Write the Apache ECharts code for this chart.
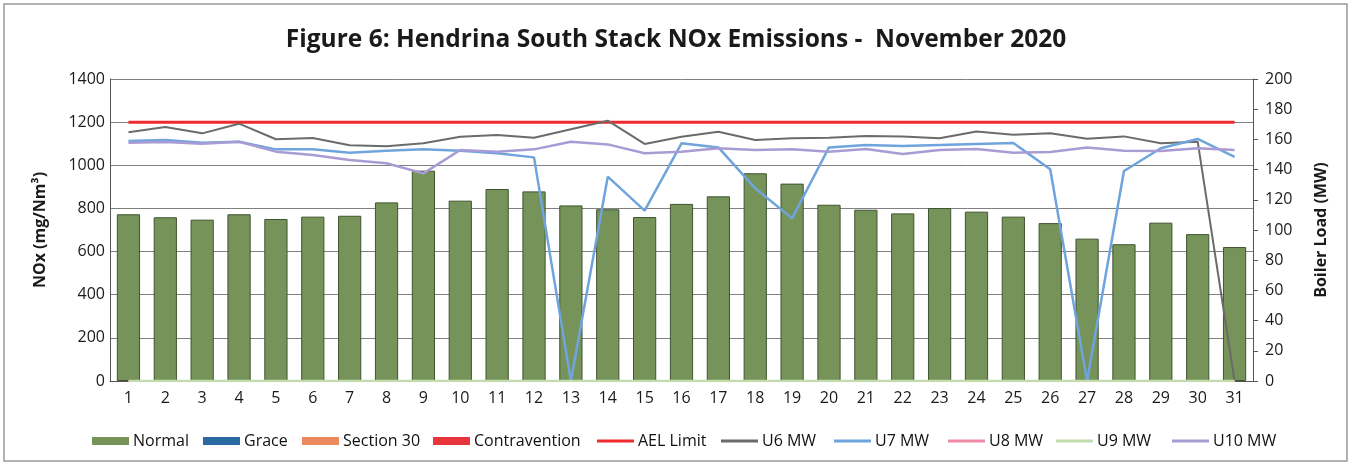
<!DOCTYPE html>
<html>
<head>
<meta charset="utf-8">
<script src="https://cdn.jsdelivr.net/npm/echarts@6/dist/echarts.min.js"></script>
<style>
html,body{margin:0;padding:0;background:#fff;}
#chart{width:1352px;height:465px;}
</style>
</head>
<body>
<div id="chart"></div>
<script>
const days = ['1','2','3','4','5','6','7','8','9','10','11','12','13','14','15','16','17','18','19','20','21','22','23','24','25','26','27','28','29','30','31'];
const normal = [773,759,748,773,751,762,766,828,975,836,890,879,814,796,760,821,856,963,915,817,794,777,802,785,762,732,660,634,734,681,621];
const grace = [];
const section30 = [];
const contravention = [];
const aelLimit = [1200,1200,1200,1200,1200,1200,1200,1200,1200,1200,1200,1200,1200,1200,1200,1200,1200,1200,1200,1200,1200,1200,1200,1200,1200,1200,1200,1200,1200,1200,1200];
const u6 = [164.7,168.2,164,170.4,160.1,160.9,156.1,155.4,157.4,161.8,162.9,161.1,166.7,172.4,157,161.8,165.1,159.6,160.7,161.1,162.3,162,160.7,165.3,163.1,164,160.5,162,157.4,158.5,0];
const u7 = [158.9,159.6,157.8,158.5,153.4,153.4,151.2,152.5,153.4,152.5,150.8,148.1,0,135.3,112.8,157.4,154.7,127.6,107.7,154.7,156.3,155.6,156.3,157,157.6,140.2,0,139.1,154.1,160.3,148.5];
const u8 = [0,0,0,0,0,0,0,0,0,0,0,0,0,0,0,0,0,0,0,0,0,0,0,0,0,0,0,0,0,0,0];
const u9 = [0,0,0,0,0,0,0,0,0,0,0,0,0,0,0,0,0,0,0,0,0,0,0,0,0,0,0,0,0,0,0];
const u10 = [157.8,158.2,157.2,158.4,151.9,149.7,146.4,144.2,137.5,153,151.9,153.4,158.5,156.7,150.8,151.9,154.1,153,153.4,151.9,153.6,150.3,153,153.7,151.2,151.6,154.7,152.5,152.3,154.1,153];
const leftTicks = {min:0,max:1400,interval:200};
const rightTicks = {min:0,max:200,interval:20};
const legendNames = ['Normal','Grace','Section 30','Contravention','AEL Limit','U6 MW','U7 MW','U8 MW','U9 MW','U10 MW'];

const FONT = 'Open Sans';
const legendLeft = [87,198,297,428,592,716,829,943,1051,1167];
const legendIsBar = [true,true,true,true,false,false,false,false,false,false];

const chart = echarts.init(document.getElementById('chart'), null, {renderer:'canvas'});
function lineSeries(name, data, color, width, yIndex){
  return {name, type:'line', data, yAxisIndex:yIndex, symbol:'none', smooth:false,
    lineStyle:{color, width}, itemStyle:{color}, z:3};
}
const legends = legendNames.map((n,i)=>({
  left:legendLeft[i], top:426, itemWidth:37, itemHeight:legendIsBar[i]?8:3, itemGap:0,
  icon:'rect', selectedMode:false, itemStyle:{borderWidth:0},
  textStyle:{fontFamily:FONT, fontSize:16, color:'#111', lineHeight:20, padding:[0,0,0,-1]},
  data:[n]
}));
chart.setOption({
  animation:false,
  backgroundColor:'#fff',
  title:{text:'Figure 6: Hendrina South Stack NOx Emissions -  November 2020', left:'center', top:23,
    textStyle:{fontFamily:FONT, fontSize:24.5, fontWeight:'bold', color:'#1a1a1a'}},
  graphic:[{type:'rect', shape:{x:4,y:4,width:1343,height:457}, style:{fill:'none', stroke:'#999', lineWidth:1.5}, silent:true}],
  legend:legends,
  grid:{left:110, right:99, top:79, bottom:84},
  xAxis:{type:'category', data:days, boundaryGap:true,
    axisLine:{show:true, lineStyle:{color:'#555', width:1}}, axisTick:{show:false},
    axisLabel:{fontFamily:FONT, fontSize:16, color:'#1a1a1a', margin:9}},
  yAxis:[
    {type:'value', min:leftTicks.min, max:leftTicks.max, interval:leftTicks.interval, position:'left',
     name:'NOx (mg/Nm³)', nameLocation:'middle', nameGap:62, nameRotate:90,
     nameTextStyle:{fontFamily:FONT, fontSize:16, fontWeight:'bold', color:'#1a1a1a'},
     axisLine:{show:true, lineStyle:{color:'#555'}}, axisTick:{show:false},
     axisLabel:{fontFamily:FONT, fontSize:16, color:'#1a1a1a', margin:5, formatter:(v)=>String(v)},
     splitLine:{show:true, lineStyle:{color:'#808080', width:1}}},
    {type:'value', min:rightTicks.min, max:rightTicks.max, interval:rightTicks.interval, position:'right',
     name:'Boiler Load (MW)', nameLocation:'middle', nameGap:60, nameRotate:90,
     nameTextStyle:{fontFamily:FONT, fontSize:16, fontWeight:'bold', color:'#1a1a1a'},
     axisLine:{show:true, lineStyle:{color:'#555'}}, axisTick:{show:true, inside:false, length:5, lineStyle:{color:'#555'}},
     axisLabel:{fontFamily:FONT, fontSize:16, color:'#1a1a1a', margin:12, formatter:(v)=>String(v)},
     splitLine:{show:false}}
  ],
  series:[
    {name:'Normal', type:'bar', stack:'nox', data:normal, barWidth:'63%', yAxisIndex:0,
     itemStyle:{color:'#76935a', borderColor:'#40532f', borderWidth:1}},
    {name:'Grace', type:'bar', stack:'nox', data:grace, yAxisIndex:0, itemStyle:{color:'#2a6aa0'}},
    {name:'Section 30', type:'bar', stack:'nox', data:section30, yAxisIndex:0, itemStyle:{color:'#ec8a5e'}},
    {name:'Contravention', type:'bar', stack:'nox', data:contravention, yAxisIndex:0, itemStyle:{color:'#e8353b'}},
    lineSeries('AEL Limit', aelLimit, '#ee2a2e', 3, 0),
    lineSeries('U6 MW', u6, '#6b6b6b', 2, 1),
    lineSeries('U7 MW', u7, '#6fa5dc', 2.5, 1),
    lineSeries('U8 MW', u8, '#f08aa6', 2, 1),
    lineSeries('U9 MW', u9, '#c3dcae', 2.5, 1),
    lineSeries('U10 MW', u10, '#a99bd4', 2.5, 1)
  ]
});
</script>
</body>
</html>
